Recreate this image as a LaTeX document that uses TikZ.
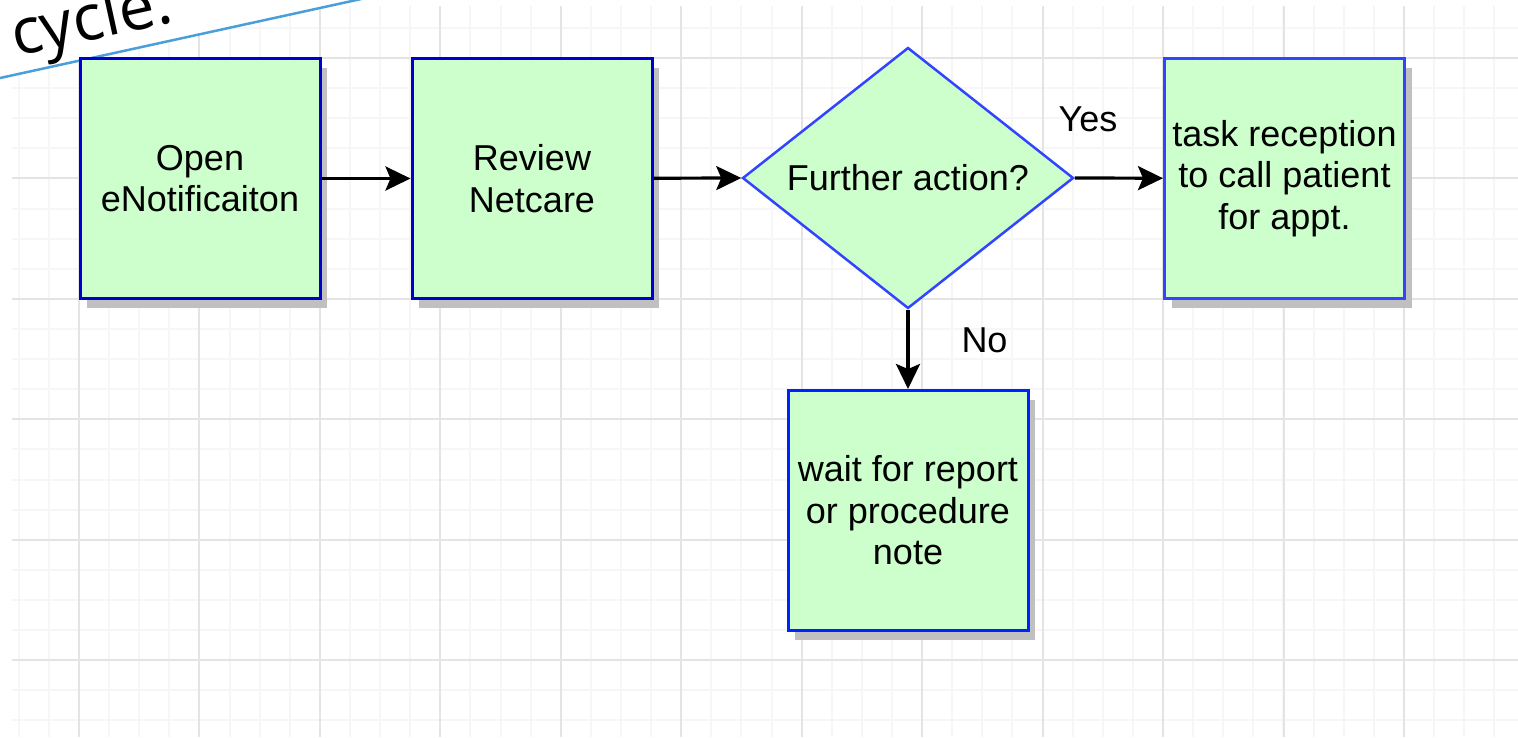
\documentclass[tikz,border=0pt]{standalone}
\usepackage{fontspec}
\setmainfont{Liberation Sans}
\newfontfamily\calloutfont{Open Sans}
\usetikzlibrary{shapes.geometric,arrows.meta,shadows}
\definecolor{boxfill}{HTML}{CCFFCC}
\definecolor{darkblue}{HTML}{0000CC}
\definecolor{midblue}{HTML}{3344FF}
\definecolor{brightblue}{HTML}{0022FF}
\definecolor{gridmajor}{HTML}{E4E4E4}
\definecolor{gridminor}{HTML}{F6F6F6}
\definecolor{shadowgray}{HTML}{C0C0C0}
\definecolor{calloutblue}{HTML}{4A9FDB}
\begin{document}
\begin{tikzpicture}[x=1pt,y=-1pt,
  procbox/.style={draw=darkblue, line width=3pt, fill=boxfill,
    minimum width=240pt, minimum height=240pt, inner sep=0pt, align=center,
    font=\fontsize{36}{41.5}\selectfont,
    drop shadow={shadow xshift=7pt, shadow yshift=-9pt, fill=shadowgray, opacity=1}},
  decision/.style={diamond, draw=midblue, line width=2.5pt, fill=boxfill, aspect=1.27,
    minimum width=331pt, minimum height=261pt, inner sep=0pt,
    font=\fontsize{36}{41.5}\selectfont},
  flow/.style={-{Stealth[length=25pt,width=24pt,inset=5pt]}, line width=3.2pt, black},
  lbl/.style={font=\fontsize{36}{41.5}\selectfont, inner sep=0pt},
  minorline/.style={gridminor, line width=2pt},
  majorline/.style={gridmajor, line width=2pt}]
\useasboundingbox (0,0) rectangle (1518,737);
\fill[white] (0,0) rectangle (1518,737);
% grid
\foreach \i in {0,...,49} {\draw[minorline] ({18.8+30.11*\i},6) -- ({18.8+30.11*\i},737);}
\foreach \i in {0,...,23} {\draw[minorline] (12,{27.9+30.11*\i}) -- (1518,{27.9+30.11*\i});}
\foreach \k in {0,...,11} {\draw[majorline] ({79+120.45*\k},6) -- ({79+120.45*\k},737);}
\foreach \k in {0,...,5} {\draw[majorline] (12,{58+120.45*\k}) -- (1518,{58+120.45*\k});}
% callout fragment
\fill[white] (-5,79.1) -- (362,-1.2) -- (-5,-5) -- cycle;
\draw[calloutblue, line width=2.5pt] (-5,79.1) -- (362,-1.2);
\node[anchor=base west, rotate=12.4, inner sep=0pt, font=\calloutfont\fontsize{64}{70}\selectfont] (cyc) at (16,57) {cycle.};
% nodes
\node[procbox] (open) at (200,178.5) {Open\\eNotificaiton};
\node[procbox] (review) at (532,178.5) {Review\\Netcare};
\node[decision] (further) at (908,178) {Further action?};
\node[procbox, draw=midblue] (task) at (1284.5,178.5) {task reception\\to call patient\\for appt.};
\node[procbox, draw=brightblue] (wait) at (908,510.5) {wait for report\\or procedure\\note};
% connectors
\draw[flow] (open) -- (review);
\draw[flow] (review) -- (further.west);
\draw[flow] (further.east) -- (task);
\draw[flow] (further.south) -- (wait);
\node[lbl] (yes) at (1088,119) {Yes};
\node[lbl] (no) at (984.5,340) {No};
\end{tikzpicture}
\end{document}
